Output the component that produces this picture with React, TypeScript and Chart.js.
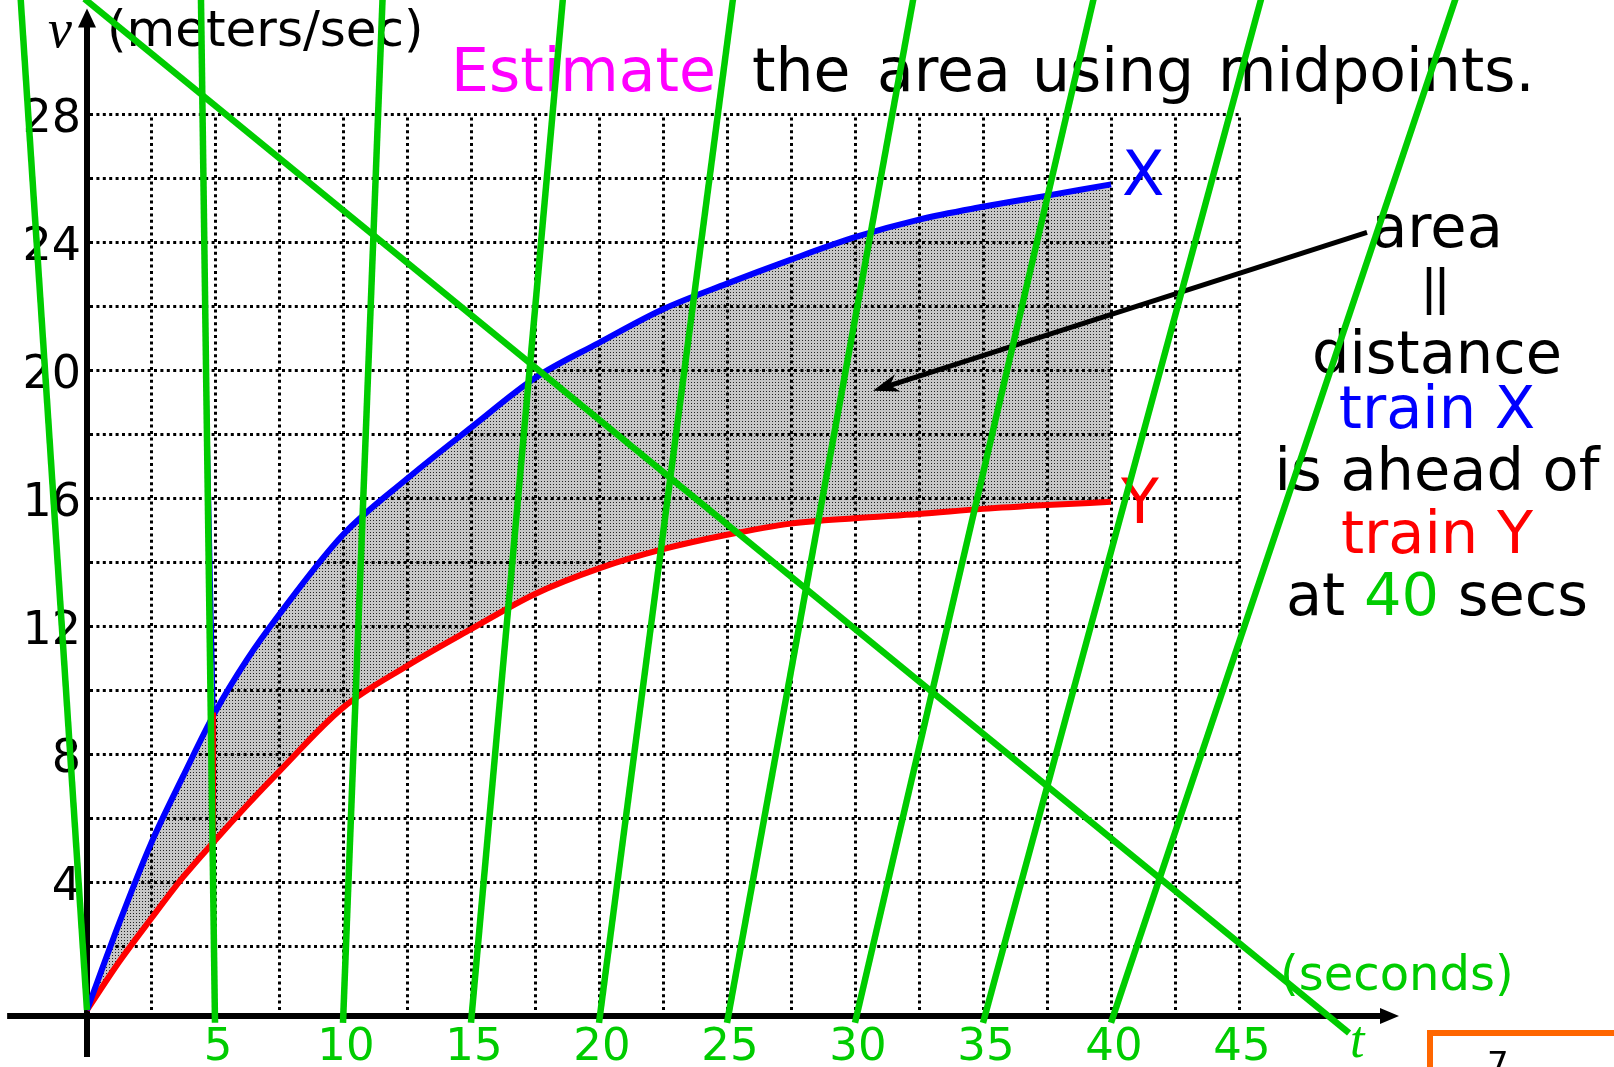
import { useEffect, useRef } from 'react';
import { Chart, registerables } from 'chart.js';

Chart.register(...registerables);

// Slide size and the plot's coordinate frame: t = 0 sits at x = 87px with
// 25.6px per second, v = 0 sits at y = 1010px with 32px per m/s.
const W = 1614;
const H = 1067;
const T_MIN = -87 / 25.6;
const T_MAX = T_MIN + W / 25.6;
const V_MAX = 1010 / 32;
const V_MIN = V_MAX - H / 32;

// Velocity samples (seconds, meters/sec)
const times = [0, 1.25, 2.5, 3.75, 5, 6.25, 7.5, 10, 12.5, 15, 17.5, 20, 22.5, 25, 27.5, 30, 32.5, 35, 37.5, 40];
const trainX = [0, 2.7, 5.2, 7.3, 9.3, 10.95, 12.35, 14.85, 16.6, 18.2, 19.75, 20.85, 21.9, 22.7, 23.45, 24.15, 24.7, 25.1, 25.45, 25.8];
const trainY = [0, 1.5, 2.85, 4.15, 5.3, 6.4, 7.45, 9.45, 10.75, 11.9, 13.0, 13.8, 14.4, 14.85, 15.2, 15.37, 15.5, 15.66, 15.78, 15.88];

// Axis ticks and grid
const vTicks = [4, 8, 12, 16, 20, 24, 28];
const tTicks = [5, 10, 15, 20, 25, 30, 35, 40, 45];
const gridV = [2, 4, 6, 8, 10, 12, 14, 16, 18, 20, 22, 24, 26, 28];
const gridT = [2.5, 5, 7.5, 10, 12.5, 15, 17.5, 20, 22.5, 25, 27.5, 30, 32.5, 35, 37.5, 40, 42.5, 45];

// Hand-drawn pen strokes: [t0, v0, t1, v1]
const penStrokes = [
  [0, 0, -2.6, 31.7],
  [-0.1, 31.6, 49.3, -0.72],
  [5, -0.4, 4.45, 31.7],
  [10, -0.4, 11.55, 31.7],
  [15, -0.4, 18.6, 31.7],
  [20, -0.4, 25.25, 31.7],
  [25, -0.4, 32.3, 31.7],
  [30, -0.4, 39.35, 31.7],
  [35, -0.4, 45.9, 31.7],
  [40, -0.4, 53.5, 31.7],
];

// Midpoint marker at t = 5
const markT = 5;
const markTopT = 4.4;

// Arrow from the "area" note into the shaded region: [tFrom, vFrom, tTo, vTo]
const noteArrow = [50.0, 24.3, 30.7, 19.35];

const BLUE = '#0000ff';
const RED = '#ff0000';
const GREEN = '#00cc00';
const MAGENTA = '#ff00ff';
const SANS = '"DejaVu Sans"';
const SERIF = '"Liberation Serif"';

function makeDots(): CanvasPattern | string {
  const tile = document.createElement('canvas');
  tile.width = 3;
  tile.height = 3;
  const c = tile.getContext('2d');
  if (!c) return '#b8b8b8';
  c.fillStyle = '#c6c6c6';
  c.fillRect(0, 0, 3, 3);
  c.fillStyle = '#222222';
  c.fillRect(1, 1, 1, 1);
  const p = c.createPattern(tile, 'repeat');
  return p || '#b8b8b8';
}

// snap a 3px line onto whole pixels so the dots stay crisp
const snap = (p: number) => Math.round(p) + 0.5;

const slidePlugin = {
  id: 'slide',
  beforeDatasetsDraw(chart: any) {
    const ctx: CanvasRenderingContext2D = chart.ctx;
    const xs = chart.scales.x;
    const ys = chart.scales.y;
    const px = (t: number) => xs.getPixelForValue(t);
    const py = (v: number) => ys.getPixelForValue(v);

    ctx.save();

    // dotted grid
    ctx.strokeStyle = '#000';
    ctx.lineWidth = 3;
    ctx.setLineDash([3, 3.4]);
    for (const v of gridV) {
      const y = snap(py(v));
      ctx.beginPath();
      ctx.moveTo(px(0) + 3, y);
      ctx.lineTo(px(45) + 1.5, y);
      ctx.stroke();
    }
    for (const t of gridT) {
      const x = snap(px(t));
      ctx.beginPath();
      ctx.moveTo(x, py(0));
      ctx.lineTo(x, py(28));
      ctx.stroke();
    }
    ctx.setLineDash([]);

    // axes with arrowheads
    ctx.lineWidth = 6;
    ctx.fillStyle = '#000';
    const axisY = Math.round(py(-0.19));
    ctx.beginPath();
    ctx.moveTo(px(-3.12), axisY);
    ctx.lineTo(px(50.6), axisY);
    ctx.stroke();
    ctx.beginPath();
    ctx.moveTo(px(51.25), axisY);
    ctx.lineTo(px(51.25) - 19, axisY - 8);
    ctx.lineTo(px(51.25) - 19, axisY + 8);
    ctx.closePath();
    ctx.fill();

    const axisX = Math.round(px(0));
    ctx.beginPath();
    ctx.moveTo(axisX, py(-1.47));
    ctx.lineTo(axisX, py(30.8));
    ctx.stroke();
    ctx.beginPath();
    ctx.moveTo(axisX, py(31.3));
    ctx.lineTo(axisX - 9, py(31.3) + 19);
    ctx.lineTo(axisX + 9, py(31.3) + 19);
    ctx.closePath();
    ctx.fill();

    // tick labels
    ctx.textBaseline = 'alphabetic';
    ctx.font = `46px ${SANS}`;
    ctx.textAlign = 'right';
    ctx.fillStyle = '#000';
    for (const v of vTicks) ctx.fillText(String(v), axisX - 6, py(v) + 18);
    ctx.font = `45px ${SANS}`;
    ctx.textAlign = 'center';
    ctx.fillStyle = GREEN;
    for (const t of tTicks) ctx.fillText(String(t), px(t) + 3, py(0) + 50);

    // axis names
    ctx.textAlign = 'left';
    ctx.fillStyle = '#000';
    ctx.font = `italic 54px ${SERIF}`;
    ctx.fillText('v', 48, 47);
    ctx.font = `50px ${SANS}`;
    ctx.fillText('(meters/sec)', 107, 46);
    ctx.fillStyle = GREEN;
    ctx.font = `48px ${SANS}`;
    ctx.fillText('(seconds)', 1280, 990);
    ctx.font = `italic 52px ${SERIF}`;
    ctx.fillText('t', 1350, 1057);

    // title
    ctx.font = `60px ${SANS}`;
    const title: [string, number, string][] = [
      ['Estimate', 451, MAGENTA],
      ['the', 752, '#000'],
      ['area', 877, '#000'],
      ['using', 1032, '#000'],
      ['midpoints.', 1218, '#000'],
    ];
    for (const [word, x, col] of title) {
      ctx.fillStyle = col;
      ctx.fillText(word, x, 91);
    }

    // curve names
    ctx.font = `62px ${SANS}`;
    ctx.fillStyle = BLUE;
    ctx.fillText('X', 1122, 195);
    ctx.fillStyle = RED;
    ctx.fillText('Y', 1121, 523);

    // note on the right
    const cx = 1437;
    ctx.font = `59px ${SANS}`;
    ctx.textAlign = 'center';
    ctx.fillStyle = '#000';
    ctx.fillText('area', cx, 247);
    ctx.fillText('distance', cx, 373);
    ctx.fillStyle = BLUE;
    ctx.fillText('train X', cx, 428);
    ctx.fillStyle = '#000';
    ctx.fillText('is ahead of', cx, 490);
    ctx.fillStyle = RED;
    ctx.fillText('train Y', cx, 553);
    const parts: [string, string][] = [['at ', '#000'], ['40', GREEN], [' secs', '#000']];
    const total = parts.reduce((s, [p]) => s + ctx.measureText(p).width, 0);
    let x0 = cx - total / 2;
    ctx.textAlign = 'left';
    for (const [p, col] of parts) {
      ctx.fillStyle = col;
      ctx.fillText(p, x0, 615);
      x0 += ctx.measureText(p).width;
    }
    ctx.lineWidth = 4.5;
    ctx.strokeStyle = '#000';
    for (const bx of [1429, 1442]) {
      ctx.beginPath();
      ctx.moveTo(bx, 267);
      ctx.lineTo(bx, 315);
      ctx.stroke();
    }

    // arrow into the shaded area
    const [ta, va, tb, vb] = noteArrow;
    const ax = px(ta), ay = py(va), bx2 = px(tb), by2 = py(vb);
    const ang = Math.atan2(by2 - ay, bx2 - ax);
    ctx.lineWidth = 5;
    ctx.beginPath();
    ctx.moveTo(ax, ay);
    ctx.lineTo(bx2 - 14 * Math.cos(ang), by2 - 14 * Math.sin(ang));
    ctx.stroke();
    ctx.fillStyle = '#000';
    ctx.beginPath();
    ctx.moveTo(bx2, by2);
    ctx.lineTo(bx2 - 26 * Math.cos(ang) + 9 * Math.sin(ang), by2 - 26 * Math.sin(ang) - 9 * Math.cos(ang));
    ctx.lineTo(bx2 - 18 * Math.cos(ang), by2 - 18 * Math.sin(ang));
    ctx.lineTo(bx2 - 26 * Math.cos(ang) - 9 * Math.sin(ang), by2 - 26 * Math.sin(ang) + 9 * Math.cos(ang));
    ctx.closePath();
    ctx.fill();

    // page number box
    ctx.strokeStyle = '#ff6600';
    ctx.lineWidth = 6;
    ctx.strokeRect(1430, 1033, 300, 100);
    ctx.fillStyle = '#000';
    ctx.font = `34px ${SANS}`;
    ctx.fillText('7', 1487, 1076);

    ctx.restore();
  },
};

export default function App() {
  const ref = useRef<HTMLCanvasElement | null>(null);

  useEffect(() => {
    const canvas = ref.current;
    if (!canvas) return;
    const dots = makeDots();
    const idx = (t: number) => times.indexOf(t);

    const datasets: any[] = [
      {
        data: times.map((t, i) => ({ x: t, y: trainX[i] })),
        borderColor: BLUE,
        borderWidth: 6,
        backgroundColor: dots,
        fill: '+1',
        cubicInterpolationMode: 'monotone',
        order: 3,
      },
      {
        data: times.map((t, i) => ({ x: t, y: trainY[i] })),
        borderColor: RED,
        borderWidth: 6,
        fill: false,
        cubicInterpolationMode: 'monotone',
        order: 3,
      },
      {
        data: [
          { x: markT, y: trainY[idx(markT)] },
          { x: markT, y: trainX[idx(markT)] },
        ],
        borderColor: RED,
        borderWidth: 2,
        fill: false,
        order: 2,
      },
      {
        data: [
          { x: markT, y: trainX[idx(markT)] },
          { x: markTopT, y: V_MAX + 0.2 },
        ],
        borderColor: BLUE,
        borderWidth: 1.5,
        fill: false,
        order: 2,
      },
      ...penStrokes.map(([t0, v0, t1, v1]) => ({
        data: [
          { x: t0, y: v0 },
          { x: t1, y: v1 },
        ],
        borderColor: GREEN,
        borderWidth: 6.5,
        borderCapStyle: 'butt',
        fill: false,
        order: 1,
      })),
    ];

    const chart = new Chart(canvas, {
      type: 'line',
      data: { datasets },
      options: {
        animation: false,
        responsive: false,
        devicePixelRatio: 1,
        events: [],
        layout: { padding: 0 },
        elements: { point: { radius: 0 } },
        scales: {
          x: { type: 'linear', min: T_MIN, max: T_MAX, display: false },
          y: { type: 'linear', min: V_MIN, max: V_MAX, display: false },
        },
        plugins: {
          legend: { display: false },
          tooltip: { enabled: false },
          filler: { drawTime: 'beforeDatasetsDraw' },
        } as any,
      },
      plugins: [slidePlugin],
    } as any);

    return () => chart.destroy();
  }, []);

  return (
    <div style={{ position: 'absolute', left: 0, top: 0, width: W, height: H, background: '#fff' }}>
      <canvas ref={ref} width={W} height={H} style={{ display: 'block', width: W, height: H }} />
    </div>
  );
}
